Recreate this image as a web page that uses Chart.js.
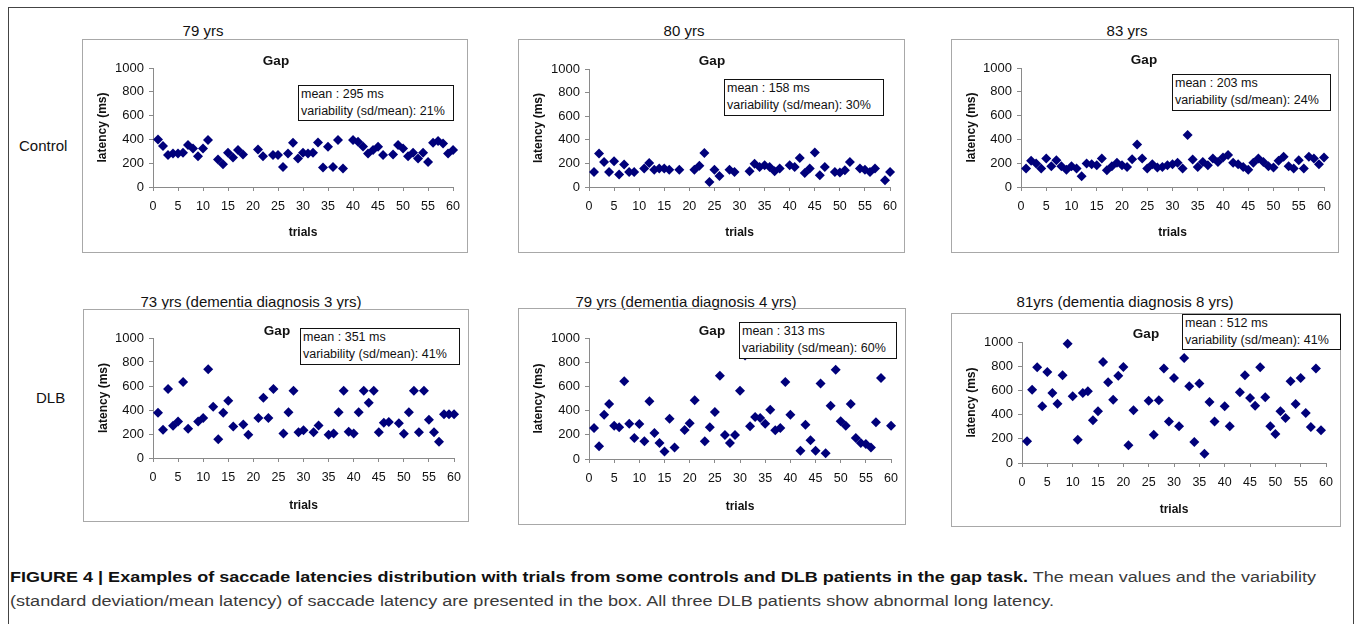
<!DOCTYPE html>
<html>
<head>
<meta charset="utf-8">
<script src="https://cdn.jsdelivr.net/npm/chart.js@4.4.1/dist/chart.umd.min.js"></script>
<style>
body { margin: 0; width: 1356px; height: 624px; overflow: hidden; position: relative; background: #fff;
       font-family: "Liberation Sans", Arial, sans-serif; color: #111; }
.abs { position: absolute; }
.frame { left: 8px; top: 7px; width: 1346px; height: 660px; border: 1px solid #444; box-sizing: border-box; }
.panel { border: 1px solid #a8a8a8; box-sizing: border-box; }
.panel canvas { position: absolute; left: -1px; top: -1px; }
.title { font-size: 15px; line-height: 1; white-space: nowrap; transform: translate(-50%, -50%); }
.row { font-size: 15px; line-height: 1; white-space: nowrap; transform: translateY(-50%); }
.gap { font-size: 13.5px; font-weight: bold; line-height: 1; transform: translate(-50%, -50%); }
.stats { border: 1.5px solid #111; background: #fff; font-size: 12.5px; line-height: 17px; padding-left: 2px;
         box-sizing: border-box; white-space: nowrap; z-index: 2; }
.cap { left: 10px; font-family: "Liberation Sans Narrow", "Liberation Sans", Arial, sans-serif; font-size: 15.5px;
       line-height: 1; white-space: nowrap; transform-origin: 0 50%; color: #3a3a3a; }
.cap b { color: #111; }
</style>
</head>
<body>
<div class="abs frame"></div>

<script>
// trial numbers
const trials = [1, 2, 3, 4, 5, 6, 7, 8, 9, 10, 11, 12, 13, 14, 15, 16, 17, 18, 19, 20,
  21, 22, 23, 24, 25, 26, 27, 28, 29, 30, 31, 32, 33, 34, 35, 36, 37, 38, 39, 40,
  41, 42, 43, 44, 45, 46, 47, 48, 49, 50, 51, 52, 53, 54, 55, 56, 57, 58, 59, 60];
const xTicks = [0, 60, 5];
const yTicks = [0, 1000, 200];

// latencies (ms) per trial, null = no saccade
const control79 = [400, 344, 268, 282, 282, 287, 352, 324, 259, 324, 394, null, 232, 192, 287, 248, 310, 273, null, null,
  315, 259, null, 268, 268, 169, 282, 372, 239, 287, 282, 287, 375, 163, 338, 169, 394, 155, null, 394,
  380, 340, 282, 310, 338, 268, null, 273, 352, 324, 259, 287, 239, 287, 211, 372, 386, 366, 282, 310];
const control80 = [127, 283, 212, 127, 218, 105, 190, 127, 127, null, 156, 204, 147, 156, 156, 147, null, 147, null, null,
  147, 181, 289, 42, 147, 93, null, 147, 127, null, null, 133, 198, 170, 184, 170, 133, 156, null, 184,
  170, 246, 119, 156, 292, 99, 170, null, 127, 122, 142, 212, null, 156, 147, 127, 156, null, 57, 127];
const control83 = [155, 220, 197, 155, 239, 175, 225, 175, 146, 175, 155, 90, 197, 192, 183, 239, 141, 175, 203, 183,
  169, 234, 358, 239, 155, 192, 163, 169, 183, 192, 203, 155, 437, 231, 169, 211, 183, 239, 211, 248,
  268, 203, 192, 169, 146, 203, 239, 211, 175, 163, 220, 254, 175, 155, 225, 155, 254, 239, 192, 248];
const dlb73 = [378, 235, 575, 268, 304, 633, 243, null, 304, 334, 740, 428, 157, 378, 478, 262, null, 279, 193, null,
  334, 503, 334, 575, null, 204, 381, 561, 215, 232, null, 215, 271, null, 193, 204, 381, 561, 218, 204,
  381, 561, 461, 561, 215, 293, 301, null, 290, 202, 381, 561, 215, 561, 318, 215, 135, 365, 365, 365];
const dlb79 = [256, 105, 366, 455, 275, 262, 642, 292, 174, 289, 146, 477, 215, 132, 61, 333, 96, null, 240, 295,
  485, null, 146, 262, 388, 689, 198, 132, 198, 565, 855, 270, 347, 339, 292, 408, 237, 256, 636, 366,
  null, 69, 284, 154, 69, 623, 47, 441, 738, 311, 275, 455, 174, 132, 124, 96, 303, 669, null, 275];
const dlb81 = [179, 606, 791, 468, 752, 579, 490, 725, 986, 551, 193, 579, 592, 353, 427, 835, 667, 523, 722, 793,
  146, 435, null, null, 515, 234, 518, 780, 344, 702, 303, 868, 634, 174, 656, 77, 504, 344, null, 468,
  303, null, 584, 725, 537, 474, 791, 543, 303, 240, 427, 372, 675, 488, 702, 413, 298, 780, 270, null];

const series = [control79, control80, control83, dlb73, dlb79, dlb81];
const titles = ['79 yrs', '80 yrs', '83 yrs',
  '73 yrs (dementia diagnosis 3 yrs)', '79 yrs (dementia diagnosis 4 yrs)', '81yrs (dementia diagnosis 8 yrs)'];
const means = ['295', '158', '203', '351', '313', '512'];
const variability = ['21', '30', '24', '41', '60', '41'];
const groups = ['Control', 'DLB'];

// page layout: box [l,t,r,b], plot [x0, x60, y0, y1000], gap label, stats box, trials label y, title centre
const layout = [
  { box: [82, 39, 468, 253], plot: [153, 456, 187, 68], gap: [276, 61], stats: [298, 85, 454, 121], trialsY: 233, title: [203, 30] },
  { box: [518, 39, 905, 253], plot: [589, 893, 187, 69], gap: [712, 61], stats: [724, 79, 884, 116], trialsY: 233, title: [684, 30] },
  { box: [951, 39, 1339, 253], plot: [1021, 1324, 187, 68], gap: [1144, 60], stats: [1172, 74, 1331, 111], trialsY: 233, title: [1127, 30] },
  { box: [83, 309, 469, 522], plot: [153, 458, 458, 338], gap: [277, 331], stats: [300, 328, 460, 365], trialsY: 506, title: [251, 301] },
  { box: [518, 308, 906, 525], plot: [589, 893, 459, 338], gap: [712, 331], stats: [739, 322, 897, 359], trialsY: 507, title: [686, 301] },
  { box: [951, 313, 1341, 527], plot: [1022, 1329, 463, 342], gap: [1146, 334], stats: [1182, 314, 1341, 350], trialsY: 510, title: [1125, 301] }
];
const rowLabels = [[19, 145], [36, 397]];

const FONT = '"Liberation Sans", Arial, sans-serif';
const navy = '#00007a';
const axisGrey = '#8a8a8a';

function addDiv(cls, html, css) {
  const d = document.createElement('div');
  d.className = 'abs ' + cls;
  d.innerHTML = html;
  Object.assign(d.style, css);
  document.body.appendChild(d);
  return d;
}

groups.forEach((g, i) => addDiv('row', g, { left: rowLabels[i][0] + 'px', top: rowLabels[i][1] + 'px' }));

layout.forEach((p, i) => {
  const [l, t, r, b] = p.box;
  const [x0, x60, y0, y1000] = p.plot;

  addDiv('title', titles[i], { left: p.title[0] + 'px', top: p.title[1] + 'px' });

  const wrap = addDiv('panel', '', { left: l + 'px', top: t + 'px', width: (r - l) + 'px', height: (b - t) + 'px' });
  const cv = document.createElement('canvas');
  cv.width = r - l;
  cv.height = b - t;
  cv.style.width = (r - l) + 'px';
  cv.style.height = (b - t) + 'px';
  wrap.appendChild(cv);

  const pts = [];
  trials.forEach((tr, k) => { if (series[i][k] !== null) pts.push({ x: tr, y: series[i][k] }); });

  new Chart(cv, {
    type: 'scatter',
    data: {
      datasets: [{
        data: pts,
        pointStyle: 'rectRot',
        pointRadius: 5,
        pointHoverRadius: 5,
        backgroundColor: navy,
        borderColor: navy,
        borderWidth: 0,
        clip: false
      }]
    },
    options: {
      responsive: false,
      animation: false,
      devicePixelRatio: 1,
      layout: { padding: { left: 0, top: y1000 - t, right: r - x60, bottom: 0 } },
      plugins: { legend: { display: false }, tooltip: { enabled: false }, title: { display: false } },
      scales: {
        x: {
          type: 'linear', min: xTicks[0], max: xTicks[1],
          ticks: { stepSize: xTicks[2], padding: 8, color: '#111', font: { family: FONT, size: 12.5 },
                   callback: v => String(v) },
          grid: { drawOnChartArea: false, tickLength: 4, color: axisGrey },
          border: { color: axisGrey },
          title: { display: true, text: 'trials', color: '#111', font: { family: FONT, size: 12, weight: 'bold' },
                   padding: { top: 0, bottom: b - p.trialsY - 7.2 } },
          afterFit: s => { s.height = b - y0; }
        },
        y: {
          min: yTicks[0], max: yTicks[1],
          ticks: { stepSize: yTicks[2], padding: 5, color: '#111', font: { family: FONT, size: 13 },
                   callback: v => String(v) },
          grid: { drawOnChartArea: false, tickLength: 4, color: axisGrey },
          border: { color: axisGrey },
          title: { display: true, text: 'latency (ms)', color: '#111', font: { family: FONT, size: 12, weight: 'bold' },
                   padding: { top: 13, bottom: 0 } },
          afterFit: s => { s.width = x0 - l; }
        }
      }
    }
  });

  addDiv('gap', 'Gap', { left: p.gap[0] + 'px', top: p.gap[1] + 'px' });
  const [sl, st, sr, sb] = p.stats;
  addDiv('stats', 'mean : ' + means[i] + ' ms<br>variability (sd/mean): ' + variability[i] + '%',
    { left: sl + 'px', top: st + 'px', width: (sr - sl) + 'px', height: (sb - st) + 'px' });
});

// caption, stretched to the measured line widths
const capLines = [
  ['<b>FIGURE 4 | Examples of saccade latencies distribution with trials from some controls and DLB patients in the gap task.</b> The mean values and the variability', 577, 1306],
  ['(standard deviation/mean latency) of saccade latency are presented in the box. All three DLB patients show abnormal long latency.', 601, 1044]
];
capLines.forEach(([html, y, w]) => {
  const d = addDiv('cap', html, { top: y + 'px' });
  d.style.transform = 'translateY(-50%)';
  const nat = d.getBoundingClientRect().width;
  d.style.transform = 'translateY(-50%) scaleX(' + (w / nat) + ')';
});
</script>
</body>
</html>
